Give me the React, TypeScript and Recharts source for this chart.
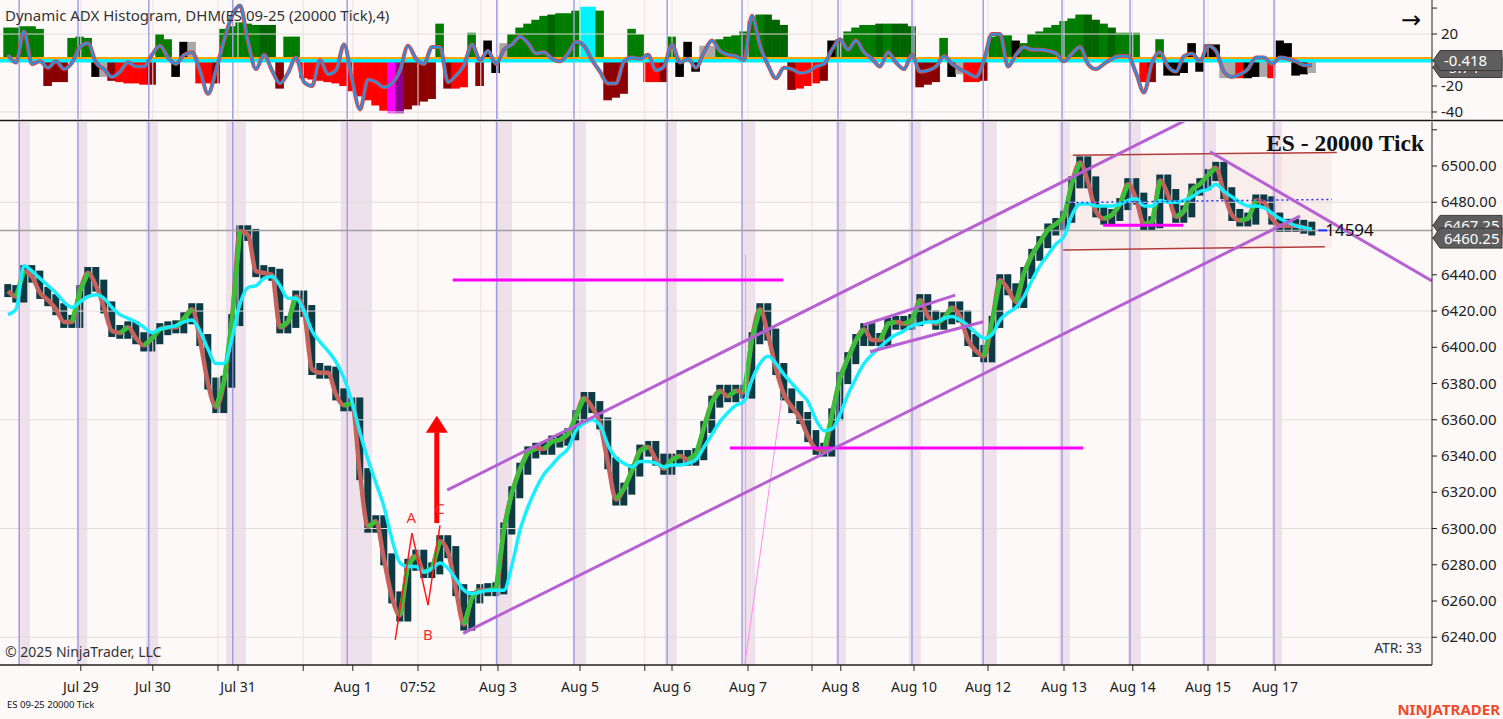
import React from 'react';
import {
  ComposedChart, Bar, Line, XAxis, YAxis, ReferenceLine, ReferenceArea, ReferenceDot, Cell,
} from 'recharts';

// ---------- data (bar index = one 20000-tick bar) ----------
const closes = [
  6431, 6428, 6442, 6439, 6430, 6426, 6421, 6414, 6414, 6431,
  6441, 6434, 6422, 6409, 6408, 6411, 6405, 6401, 6405, 6410,
  6411, 6411, 6416, 6421, 6404, 6380, 6367, 6381, 6415, 6464,
  6462, 6442, 6441, 6440, 6411, 6414, 6428, 6420, 6388, 6386,
  6386, 6374, 6368, 6369, 6330, 6301, 6304, 6283, 6262, 6252,
  6280, 6285, 6276, 6278, 6293, 6287, 6266, 6247, 6262, 6266,
  6266, 6267, 6300, 6320, 6333, 6342, 6344, 6344, 6348, 6349,
  6352, 6362, 6372, 6367, 6358, 6336, 6316, 6322, 6332, 6343,
  6345, 6338, 6333, 6338, 6340, 6338, 6341, 6356, 6370, 6376,
  6373, 6376, 6375, 6405, 6421, 6407, 6388, 6374, 6367, 6361,
  6351, 6344, 6343, 6363, 6383, 6394, 6404, 6410, 6404, 6404,
  6413, 6414, 6413, 6415, 6426, 6417, 6413, 6416, 6422, 6417,
  6404, 6398, 6395, 6414, 6437, 6432, 6425, 6441, 6451, 6458,
  6465, 6468, 6472, 6491, 6502, 6491, 6475, 6471, 6473, 6479,
  6490, 6482, 6468, 6469, 6492, 6484, 6472, 6475, 6487, 6490,
  6495, 6499, 6485, 6473, 6470, 6471, 6481, 6480, 6471, 6467,
  6467, 6467, 6466, 6465,
];

const slowMA = [
  6418, 6421, 6445, 6442, 6438, 6434, 6430, 6425, 6422, 6425,
  6428, 6429, 6427, 6422, 6418, 6416, 6414, 6411, 6408, 6410,
  6411, 6412, 6414, 6415, 6409, 6399, 6391, 6391, 6405, 6424,
  6433, 6434, 6438, 6439, 6434, 6427, 6427, 6420, 6409, 6403,
  6398, 6392, 6383, 6370, 6353, 6338, 6325, 6312, 6294, 6281,
  6279, 6279, 6276, 6278, 6281, 6278, 6272, 6266, 6264, 6265,
  6266, 6266, 6266, 6280, 6299, 6312, 6322, 6330, 6335, 6340,
  6344, 6354, 6358, 6360, 6357, 6346, 6339, 6336, 6334, 6337,
  6337, 6336, 6334, 6335, 6335, 6336, 6338, 6345, 6352, 6359,
  6364, 6368, 6370, 6382, 6391, 6395, 6391, 6385, 6380, 6375,
  6370, 6360, 6354, 6355, 6363, 6374, 6383, 6391, 6396, 6400,
  6404, 6407, 6409, 6412, 6413, 6414, 6414, 6416, 6417, 6415,
  6412, 6408, 6405, 6407, 6415, 6419, 6422, 6428, 6437, 6445,
  6451, 6457, 6461, 6473, 6479, 6479, 6478, 6478, 6478, 6479,
  6481, 6482, 6478, 6478, 6481, 6480, 6480, 6481, 6483, 6486,
  6487, 6490, 6486, 6483, 6480, 6478, 6478, 6477, 6474, 6471,
  6469, 6467, 6466, 6465,
];

const histValues = [
  25, 25, 26, 26, 24, -20, -17, -17, 17, 18,
  17, -13, -13, -16, -17, -18, -18, -19, -19, 20,
  16, -13, 14, 14, -18, -18, -18, 24, 26, 29,
  28, 27, 27, 27, -22, 18, 18, -14, -15, -16,
  -17, -18, -20, -24, -28, -31, -35, -39, -41, -41,
  -38, -35, -32, -30, 28, -22, -22, -21, 21, -20,
  15, -10, 13, 20, 25, 28, 31, 34, 35, 36,
  36, 38, 41, 41, 38, -31, -29, -26, 24, 20,
  -17, -17, -17, 18, -13, 14, -9, 11, 11, 16,
  18, 19, 22, 30, 35, 35, 31, 27, -23, -22,
  -20, -18, -16, 15, 16, 22, 25, 27, 27, 28,
  28, 28, 28, 26, -21, -19, -17, 17, -13, -11,
  -17, -17, -16, 18, 19, 19, 15, 13, 20, 22,
  25, 27, 30, 32, 35, 35, 31, 28, 25, 21,
  21, 21, -17, -17, 16, -12, -12, -10, 13, -9,
  12, 12, -14, -14, -14, -14, -13, -13, -14, 15,
  13, -12, -11, -10,
];

// G green, H dark green, D dark red, R red, K black, S grey, M magenta, P purple, C cyan
const histColorCodes = (
  'GGGGGDDDGG' + 'GKSDRRRRDG' + 'GKKSRRDGGG' + 'GGHHDGGRRR' +
  'RRRRRRRRMP' + 'DDDDGDRRGD' + 'KKSGGGGGHG' + 'GGCCGDDDGG' +
  'RRDGKKKSSG' + 'GGGGGHHHDR' + 'RRDKGGGGGH' + 'GHHHDDDGKS' +
  'RRDGGGKGGG' + 'GGGGGHHGHG' + 'GGRDGKKKKK' + 'KKSSRKKSRK' + 'KKKS'
).split('');

const oscValues = [
  4, -2, 22, -3, -1, -6, -1, -7, -2, 10,
  13, -2, -7, -13, -9, -2, -5, -5, 4, 11,
  2, -3, 4, 6, -8, -26, -8, 15, 34, 42,
  14, -7, 4, -8, -18, -10, 2, -17, -20, 0,
  -11, -8, 12, -15, -38, -15, -17, -21, -18, -8,
  11, 1, -3, 10, 10, -17, -12, -4, 12, 0,
  7, -3, 8, 12, 18, 13, 5, 6, 1, -1,
  5, 14, 11, 0, -9, -18, -18, -1, 2, 1,
  4, -8, -5, 12, -2, 1, -6, 6, 15, 7,
  4, 3, 0, 34, 11, -4, -14, -6, -7, -10,
  -9, -5, -3, 8, 16, 8, 15, 6, 1, -5,
  6, -2, -7, 4, -9, -8, -5, 3, -3, -7,
  -10, -13, 0, 20, 20, -5, 4, 10, 8, 8,
  7, 5, -1, 5, 10, -3, -7, -3, 1, 3,
  3, -10, -25, -2, 6, -5, -9, 3, 5, -1,
  11, 7, -9, -13, -11, -7, 2, 2, -3, 2,
  1, -1, -4, -4,
];

const xTicks = [9.1, 18.1, 26.25, 28.75, 36.9, 43.1, 51.25, 59.1, 61.25, 71.5, 79.6, 83, 92.5, 100.5, 104.1, 113.25, 122.5, 132, 140.6, 150, 158.4];
const xTickLabels = ['Jul 29', 'Jul 30', '', 'Jul 31', '', 'Aug 1', '07:52', '', 'Aug 3', 'Aug 5', '', 'Aug 6', 'Aug 7', '', 'Aug 8', 'Aug 10', 'Aug 12', 'Aug 13', 'Aug 14', 'Aug 15', 'Aug 17'];

const sessionStarts = [1.4, 8.75, 17.6, 28.1, 42.4, 61.1, 70.75, 82.4, 91.75, 103.75, 113, 121.9, 131.75, 140.25, 149.5, 158.25];
const sessionBands = [
  [1.25, 2.75], [8.6, 9.9], [17.25, 18.75], [27.25, 29.75], [41.6, 45.5], [60.9, 63],
  [70.6, 72.25], [82.1, 83.6], [91.75, 93.4], [103.5, 104.75], [112.6, 114.1], [121.6, 123.6],
  [131.4, 132.75], [140, 141.6], [149.25, 151], [158, 159.25],
];

const priceTicks = [6240, 6260, 6280, 6300, 6320, 6340, 6360, 6380, 6400, 6420, 6440, 6467.25, 6460.25, 6480, 6500, 6520];
const priceBadges = [6467.25, 6460.25];
const priceGrid = [6240, 6300, 6360, 6420, 6480];
const lastPrice = 6464.5;

const oscTicks = [40, 20, -5.74, -0.418, -20, -40];
const oscBadges = [-5.74, -0.418];
const oscGrid = [20, -40];

// drawing objects (bar index, price)
const channelUpper = [{ x: 54.9, y: 6321.2 }, { x: 148, y: 6527 }];
const channelLower = [{ x: 56.9, y: 6242.2 }, { x: 161.5, y: 6472.4 }];
const wedgeUpper = [{ x: 106.9, y: 6412.3 }, { x: 118.4, y: 6428.8 }];
const wedgeLower = [{ x: 107.75, y: 6397.5 }, { x: 121.9, y: 6414.1 }];
const downTrend = [{ x: 150.25, y: 6507.9 }, { x: 178, y: 6436.6 }];
const magentaLevels = [
  { x1: 55.6, x2: 96.9, y: 6437.1 },
  { x1: 90.25, x2: 134.4, y: 6344.4 },
  { x1: 136.9, x2: 146.9, y: 6467.4 },
];
const rangeTop = [{ x: 133.1, y: 6506 }, { x: 166.1, y: 6507.5 }];
const rangeBottom = [{ x: 131.9, y: 6453.7 }, { x: 164.6, y: 6455.5 }];
const dottedLevel = [{ x: 132.3, y: 6479.8 }, { x: 165.5, y: 6481.6 }];
const pinkLines = [
  [{ x: 92.2, y: 6451 }, { x: 92.2, y: 6225 }],
  [{ x: 92.1, y: 6225 }, { x: 96.75, y: 6373 }],
];
const abcPath = [{ x: 48.4, y: 6238.5 }, { x: 50.5, y: 6297.5 }, { x: 52.5, y: 6257.7 }, { x: 54.0, y: 6301.8 }];
const abcLabels = [{ t: 'A', x: 50.4, y: 6306 }, { t: 'B', x: 52.5, y: 6241 }, { t: 'C', x: 54.0, y: 6311 }];
const arrowShaft = [{ x: 53.6, y: 6303 }, { x: 53.6, y: 6353 }];
const arrowHead = { x: 53.6, y: 6357.2 };

// ---------- derived tables ----------
const rows = closes.map((c, k) => {
  const prev = k > 0 ? closes[k - 1] : c;
  return {
    i: k,
    close: c,
    body: [Math.min(prev, c), Math.max(prev, c)],
    slow: slowMA[k],
    hist: histValues[k],
    hc: histColorCodes[k],
    osc: oscValues[k],
  };
});

const greenData: { i: number; v: number | null }[] = [];
{
  let prevRising = false;
  for (let k = 1; k < closes.length; k++) {
    const rising = closes[k] > closes[k - 1];
    if (rising) {
      if (!prevRising) {
        if (greenData.length) greenData.push({ i: k - 1.5, v: null });
        greenData.push({ i: k - 1, v: closes[k - 1] });
      }
      greenData.push({ i: k, v: closes[k] });
    }
    prevRising = rising;
  }
}

const histColorMap: Record<string, string> = {
  G: '#007d00', H: '#006400', D: '#8b0000', R: '#ff0000', K: '#000000', S: '#a9a9a9', M: '#ff00ff', P: '#8b008b', C: '#00f2ff',
};

const X_DOMAIN: [number, number] = [-1, 178];
const FONT = '"Noto Sans", "DejaVu Sans", sans-serif';

// ---------- renderers ----------
const Candle = (p: any) => {
  const { x, y, width, height } = p;
  if (x == null || y == null || Number.isNaN(y)) return <g />;
  const top = height < 0 ? y + height : y;
  const h = Math.abs(height || 0);
  const cx = x + (width || 0) / 2;
  return <rect x={cx - 3.5} y={top - 6} width={7} height={h + 12} fill="#0e3a44" />;
};

const HistBar = (p: any) => {
  const { x, y, width, height, fill } = p;
  if (x == null || y == null || Number.isNaN(y)) return <g />;
  const top = height < 0 ? y + height : y;
  const h = Math.abs(height || 0);
  const cx = x + (width || 0) / 2;
  return <rect x={cx - 4.3} y={top} width={8.6} height={h} fill={fill} />;
};

const Badge = ({ x, y, text }: { x: number; y: number; text: string }) => (
  <g>
    <path d={`M${x - 8},${y} L${x - 1},${y - 10} L${x + 61},${y - 10} L${x + 61},${y + 10} L${x - 1},${y + 10} Z`} fill="#5e5e5e" stroke="#3a3a3a" />
    <text x={x + 3} y={y + 5.5} fill="#ffffff" fontSize={15} fontFamily={FONT}>{text}</text>
  </g>
);

const PriceTick = (p: any) => {
  const v = p.payload.value;
  if (priceBadges.includes(v)) return <Badge x={p.x} y={p.y} text={v.toFixed(2)} />;
  if (v === 6520) return <g />;
  return <text x={p.x} y={p.y + 5} fontSize={15} fill="#222" fontFamily={FONT}>{v.toFixed(2)}</text>;
};

const OscTick = (p: any) => {
  const v = p.payload.value;
  if (oscBadges.includes(v)) return <Badge x={p.x} y={p.y} text={String(v)} />;
  if (v === 40) return <g />;
  return <text x={p.x} y={p.y + 5} fontSize={15} fill="#222" fontFamily={FONT}>{String(v)}</text>;
};

const XTick = (p: any) => {
  const idx = xTicks.indexOf(p.payload.value);
  const label = idx >= 0 ? xTickLabels[idx] : '';
  if (!label) return <g />;
  return <text x={p.x} y={p.y} dy={19} textAnchor="middle" fontSize={14} fill="#222" fontFamily={FONT}>{label}</text>;
};

export default function App() {
  return (
    <div style={{ position: 'absolute', left: 0, top: 0, width: 1503, height: 719, background: '#fdf9f9', overflow: 'hidden', fontFamily: FONT }}>
      {/* indicator panel */}
      <div style={{ position: 'absolute', left: 0, top: 0 }}>
        <ComposedChart width={1503} height={123} data={rows} margin={{ top: 0, right: 0, bottom: 4, left: 0 }}>
          <XAxis dataKey="i" type="number" domain={X_DOMAIN} hide allowDataOverflow />
          <YAxis orientation="right" width={71} domain={[-45.4, 46.2]} ticks={oscTicks} interval={0} tick={OscTick}
            tickSize={5} tickMargin={4} axisLine={{ stroke: '#222' }} tickLine={{ stroke: '#222' }} allowDataOverflow />
          {xTicks.map((t) => <ReferenceLine key={'vg' + t} x={t} stroke="#ebe3e3" />)}
          {oscGrid.map((v) => <ReferenceLine key={'hg' + v} y={v} stroke="#e3dcdc" />)}
          {sessionStarts.map((s) => <ReferenceLine key={'ss' + s} x={s} stroke="#a0a0e2" strokeWidth={1.5} />)}
          <Bar dataKey="hist" barSize={8} shape={HistBar} isAnimationActive={false}>
            {rows.map((r, k) => <Cell key={k} fill={histColorMap[r.hc]} />)}
          </Bar>
          <ReferenceLine y={1.6} stroke="#ffa500" strokeWidth={2} />
          <ReferenceLine y={-0.6} stroke="#00f0ff" strokeWidth={3.5} />
          <Line dataKey="osc" type="monotone" stroke="#d8473e" strokeWidth={4} dot={false} activeDot={false} isAnimationActive={false} />
          <Line dataKey="osc" type="monotone" stroke="#2a8fe6" strokeWidth={2.2} dot={false} activeDot={false} isAnimationActive={false} />
        </ComposedChart>
      </div>

      {/* price panel */}
      <div style={{ position: 'absolute', left: 0, top: 122 }}>
        <ComposedChart width={1503} height={578} data={rows} margin={{ top: 0, right: 0, bottom: 0, left: 0 }}>
          <XAxis dataKey="i" type="number" domain={X_DOMAIN} ticks={xTicks} interval={0} tick={XTick} height={35}
            tickSize={6} tickMargin={2} axisLine={{ stroke: '#222', strokeWidth: 1.5 }} tickLine={{ stroke: '#222' }} allowDataOverflow />
          <YAxis orientation="right" width={71} domain={[6224.7, 6524.3]} ticks={priceTicks} interval={0} tick={PriceTick}
            tickSize={5} tickMargin={4} axisLine={{ stroke: '#222' }} tickLine={{ stroke: '#222' }} allowDataOverflow />
          {sessionBands.map((b, k) => <ReferenceArea key={'sb' + k} x1={b[0]} x2={b[1]} fill="#eee1ec" fillOpacity={1} stroke="none" ifOverflow="hidden" />)}
          {xTicks.map((t) => <ReferenceLine key={'vg' + t} x={t} stroke="#ebe3e3" />)}
          {priceGrid.map((v) => <ReferenceLine key={'hg' + v} y={v} stroke="#e3dcdc" />)}
          {sessionStarts.map((s) => <ReferenceLine key={'ss' + s} x={s} stroke="#8e8ee0" strokeWidth={1.2} />)}
          <ReferenceArea x1={132} x2={165.5} y1={6454.6} y2={6506.8} fill="#f7e1dc" fillOpacity={0.45} stroke="none" />
          <ReferenceLine y={lastPrice} stroke="#a0a0a0" strokeWidth={1.5} />
          <Bar dataKey="body" barSize={7} shape={Candle} minPointSize={1} isAnimationActive={false} />
          <Line dataKey="close" type="monotone" stroke="#c4625b" strokeWidth={4.5} dot={false} activeDot={false} isAnimationActive={false} />
          <Line data={greenData} dataKey="v" type="linear" stroke="#38c038" strokeWidth={4.5} dot={false} activeDot={false} connectNulls={false} isAnimationActive={false} />
          <Line dataKey="slow" type="monotone" stroke="#18eeff" strokeWidth={3.5} dot={false} activeDot={false} isAnimationActive={false} />

          {pinkLines.map((seg, k) => <ReferenceLine key={'pl' + k} segment={seg} stroke="#ff8cf0" strokeWidth={1} ifOverflow="hidden" />)}
          <ReferenceLine segment={rangeTop} stroke="#b23c3c" strokeWidth={1.5} />
          <ReferenceLine segment={rangeBottom} stroke="#b23c3c" strokeWidth={1.5} />
          <ReferenceLine segment={dottedLevel} stroke="#2a2af0" strokeWidth={1.5} strokeDasharray="2 3" />
          {magentaLevels.map((m, k) => (
            <ReferenceLine key={'mg' + k} segment={[{ x: m.x1, y: m.y }, { x: m.x2, y: m.y }]} stroke="#ff00ff" strokeWidth={3} />
          ))}
          <ReferenceLine segment={channelUpper} stroke="#b660d4" strokeWidth={3} ifOverflow="hidden" />
          <ReferenceLine segment={channelLower} stroke="#b660d4" strokeWidth={3} ifOverflow="hidden" />
          <ReferenceLine segment={wedgeUpper} stroke="#b660d4" strokeWidth={3} ifOverflow="hidden" />
          <ReferenceLine segment={wedgeLower} stroke="#b660d4" strokeWidth={3} ifOverflow="hidden" />
          <ReferenceLine segment={downTrend} stroke="#b660d4" strokeWidth={3} ifOverflow="hidden" />
          {abcPath.slice(1).map((p, k) => (
            <ReferenceLine key={'abc' + k} segment={[abcPath[k], p]} stroke="#ff1a1a" strokeWidth={1.5} />
          ))}
          <ReferenceLine segment={arrowShaft} stroke="#ff0000" strokeWidth={5} />
          <ReferenceDot x={arrowHead.x} y={arrowHead.y} r={0}
            shape={(p: any) => <polygon points={`${p.cx},${p.cy - 9} ${p.cx - 11},${p.cy + 8} ${p.cx + 11},${p.cy + 8}`} fill="#ff0000" />} />
          {abcLabels.map((l) => (
            <ReferenceDot key={'lb' + l.t} x={l.x} y={l.y} r={0}
              shape={(p: any) => <text x={p.cx} y={p.cy + 5} textAnchor="middle" fontSize={15} fill="#ff2a2a" fontFamily={FONT}>{l.t}</text>} />
          ))}
          <ReferenceDot x={164.4} y={lastPrice} r={0}
            shape={(p: any) => (
              <g>
                <line x1={p.cx - 5} y1={p.cy} x2={p.cx + 4} y2={p.cy} stroke="#2233ff" strokeWidth={2} />
                <text x={p.cx + 2} y={p.cy + 6} fontSize={17} fill="#111" fontFamily={FONT}>14594</text>
              </g>
            )} />
        </ComposedChart>
      </div>

      {/* static texts */}
      <svg width={1503} height={719} style={{ position: 'absolute', left: 0, top: 0, pointerEvents: 'none' }}>
        <line x1={0} y1={120.5} x2={1503} y2={120.5} stroke="#1a1a1a" strokeWidth={1.5} />
        <text x={5} y={21} fontSize={15} fill="#333" fontFamily={FONT}>Dynamic ADX Histogram, DHM(ES 09-25 (20000 Tick),4)</text>
        <text x={1401} y={28} fontSize={24} fill="#000" fontFamily={FONT}>→</text>
        <text x={1424} y={151} textAnchor="end" fontSize={23.5} fontWeight="bold" fill="#111" fontFamily='"Liberation Serif", "DejaVu Serif", serif'>ES - 20000 Tick</text>
        <text x={5} y={657} fontSize={14} fill="#333" fontFamily={FONT}>© 2025 NinjaTrader, LLC</text>
        <text x={1422} y={653} textAnchor="end" fontSize={14} fill="#333" fontFamily={FONT}>ATR: 33</text>
        <text x={7} y={708} fontSize={9.5} fill="#111" fontFamily={FONT}>ES 09-25 20000 Tick</text>
        <text x={1500} y={715} textAnchor="end" fontSize={15} fontWeight="bold" fill="#f04a2b" fontFamily={FONT}>NINJATRADER</text>
      </svg>
    </div>
  );
}
